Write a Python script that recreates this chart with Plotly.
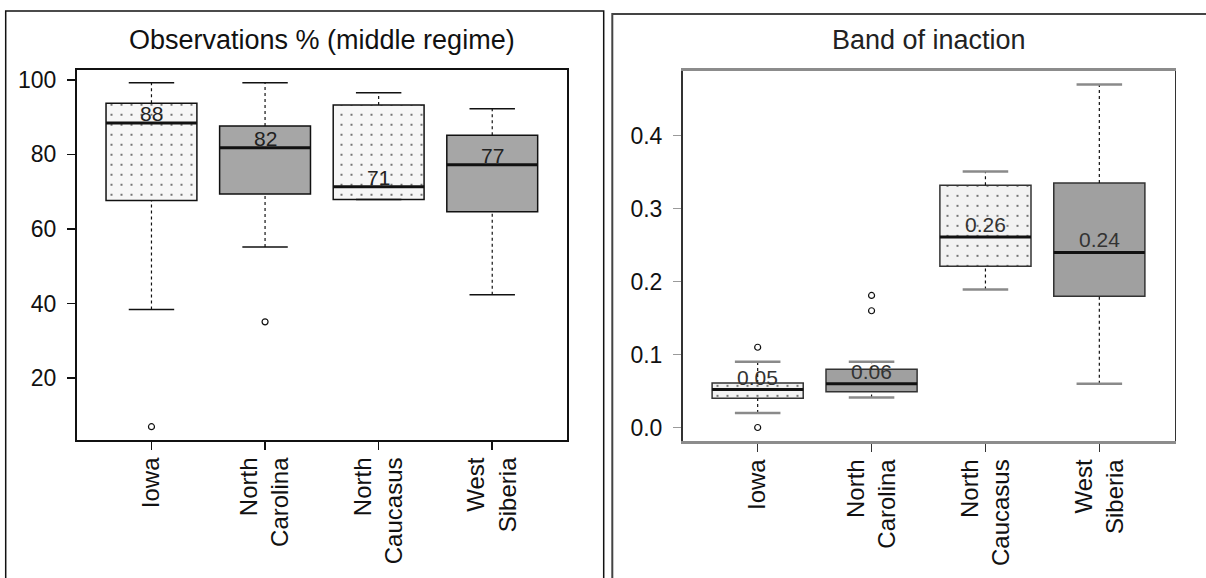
import plotly.graph_objects as go

# ---------------- data ----------------
categories = ["Iowa", "North<br>Carolina", "North<br>Caucasus", "West<br>Siberia"]

# Observations % (middle regime)
obs_lower = [38.4, 55.2, 67.9, 42.4]
obs_q1 = [67.6, 69.4, 67.9, 64.6]
obs_median = [88.4, 81.8, 71.3, 77.2]
obs_q3 = [93.7, 87.6, 93.2, 85.1]
obs_upper = [99.2, 99.2, 96.5, 92.2]
obs_outlier_cat = [1, 2]
obs_outlier_val = [7.0, 35.1]

# Band of inaction
band_lower = [0.020, 0.041, 0.189, 0.060]
band_q1 = [0.040, 0.049, 0.221, 0.180]
band_median = [0.052, 0.060, 0.261, 0.240]
band_q3 = [0.061, 0.080, 0.332, 0.335]
band_upper = [0.090, 0.090, 0.351, 0.470]
band_outlier_cat = [1, 1, 2, 2]
band_outlier_val = [0.11, 0.0, 0.181, 0.160]

FONT = "Liberation Sans, Arial, sans-serif"
W, H = 1206, 578

fig = go.Figure()
annotations = []


def add_panel(xa, ya, lower, q1, med, q3, upper, out_cat, out_val, labels,
              fills, shapes, box_line, staple_color, staple_w, text_color, yshift):
    pos = list(range(1, len(categories) + 1))
    fig.add_trace(go.Bar(
        x=pos, base=q1, y=[b - a for a, b in zip(q1, q3)], width=0.8,
        marker=dict(color=fills, line=dict(color=box_line, width=1.5),
                    pattern=dict(shape=shapes, fgcolor="#000000",
                                 size=10, solidity=0.035, fgopacity=0.9,
                                 fillmode="overlay")),
        xaxis=xa, yaxis=ya, hoverinfo="skip", showlegend=False))
    wx, wy, sx, sy, mx, my = [], [], [], [], [], []
    for p, lo, a, m, b, hi in zip(pos, lower, q1, med, q3, upper):
        wx += [p, p, None, p, p, None]
        wy += [b, hi, None, lo, a, None]
        sx += [p - 0.2, p + 0.2, None, p - 0.2, p + 0.2, None]
        sy += [hi, hi, None, lo, lo, None]
        mx += [p - 0.4, p + 0.4, None]
        my += [m, m, None]
    fig.add_trace(go.Scatter(x=wx, y=wy, mode="lines",
                             line=dict(color="#111111", width=1.2, dash="3px,3px"),
                             xaxis=xa, yaxis=ya, hoverinfo="skip", showlegend=False))
    fig.add_trace(go.Scatter(x=sx, y=sy, mode="lines",
                             line=dict(color=staple_color, width=staple_w),
                             xaxis=xa, yaxis=ya, hoverinfo="skip", showlegend=False))
    fig.add_trace(go.Scatter(x=mx, y=my, mode="lines",
                             line=dict(color="#111111", width=3),
                             xaxis=xa, yaxis=ya, hoverinfo="skip", showlegend=False))
    fig.add_trace(go.Scatter(x=out_cat, y=out_val, mode="markers",
                             marker=dict(symbol="circle-open", size=6, color="#111111",
                                         line=dict(width=1.2)),
                             xaxis=xa, yaxis=ya, hoverinfo="skip", showlegend=False))
    for p, m, t in zip(pos, med, labels):
        annotations.append(dict(x=p, y=m, xref=xa, yref=ya, text=t, showarrow=False,
                                xanchor="center", yanchor="bottom", yshift=yshift,
                                font=dict(family=FONT, size=21, color=text_color)))


add_panel("x", "y", obs_lower, obs_q1, obs_median, obs_q3, obs_upper,
          obs_outlier_cat, obs_outlier_val, [f"{round(m)}" for m in obs_median],
          ["#f6f6f6", "#a6a6a6", "#f6f6f6", "#a6a6a6"], [".", "", ".", ""],
          "#111111", "#111111", 1.5, "#222222", -4)
add_panel("x2", "y2", band_lower, band_q1, band_median, band_q3, band_upper,
          band_outlier_cat, band_outlier_val, [f"{m:.2f}" for m in band_median],
          ["#f2f2f2", "#a0a0a0", "#f2f2f2", "#a0a0a0"], [".", "", ".", ""],
          "#333333", "#8a8a8a", 2.5, "#333333", -1)

xcommon = dict(range=[0.34, 4.66], tickvals=[1, 2, 3, 4], ticktext=categories,
               tickangle=-90, ticks="outside", ticklen=8, tickwidth=1.5,
               showgrid=False, zeroline=False, showline=True, mirror=True,
               tickfont=dict(family=FONT, size=24, color="#111111"),
               ticklabelstandoff=-2)
ycommon = dict(ticks="outside", ticklen=8, tickwidth=1.5, showgrid=False,
               zeroline=False, showline=True, mirror=True,
               tickfont=dict(family=FONT, size=23, color="#111111"),
               ticklabelstandoff=6)

annotations += [
    dict(text="Observations % (middle regime)", x=321.9 / W, y=1 - 36.9 / H,
         xref="paper", yref="paper", showarrow=False, xanchor="center",
         yanchor="middle", font=dict(family=FONT, size=27, color="#111111")),
    dict(text="Band of inaction", x=928.5 / W, y=1 - 36.9 / H,
         xref="paper", yref="paper", showarrow=False, xanchor="center",
         yanchor="middle", font=dict(family=FONT, size=27, color="#222222")),
]

fig.update_layout(
    width=W, height=H, autosize=False,
    margin=dict(l=0, r=0, t=0, b=0),
    paper_bgcolor="white", plot_bgcolor="white",
    showlegend=False, barmode="overlay",
    xaxis=dict(**xcommon, domain=[76.5 / W, 567.2 / W], anchor="y",
               linecolor="#111111", linewidth=1.5, tickcolor="#111111"),
    yaxis=dict(**ycommon, domain=[1 - 439.7 / H, 1 - 67.1 / H], anchor="x",
               range=[3.32, 102.68], tickvals=[20, 40, 60, 80, 100],
               linecolor="#111111", linewidth=1.5, tickcolor="#111111"),
    xaxis2=dict(**xcommon, domain=[682.5 / W, 1174.5 / W], anchor="y2",
                linecolor="#8c8c8c", linewidth=2.5, tickcolor="#333333"),
    yaxis2=dict(**ycommon, domain=[1 - 440.5 / H, 1 - 68.2 / H], anchor="x2",
                range=[-0.0188, 0.4888], tickvals=[0, 0.1, 0.2, 0.3, 0.4],
                tickformat=".1f", linecolor="#333333", linewidth=1.5,
                tickcolor="#9a9a9a"),
    annotations=annotations,
    shapes=[
        dict(type="rect", xref="paper", yref="paper", x0=5.7 / W, x1=603.7 / W,
             y0=-0.05, y1=1 - 8.1 / H, line=dict(color="#111111", width=1.5)),
        dict(type="rect", xref="paper", yref="paper", x0=612.3 / W, x1=1.05,
             y0=-0.05, y1=1 - 11 / H, line=dict(color="#444444", width=2)),
    ],
)

fig.write_html("out.html", config={"displayModeBar": False, "staticPlot": True},
               post_script="document.body.style.margin='0px';")
